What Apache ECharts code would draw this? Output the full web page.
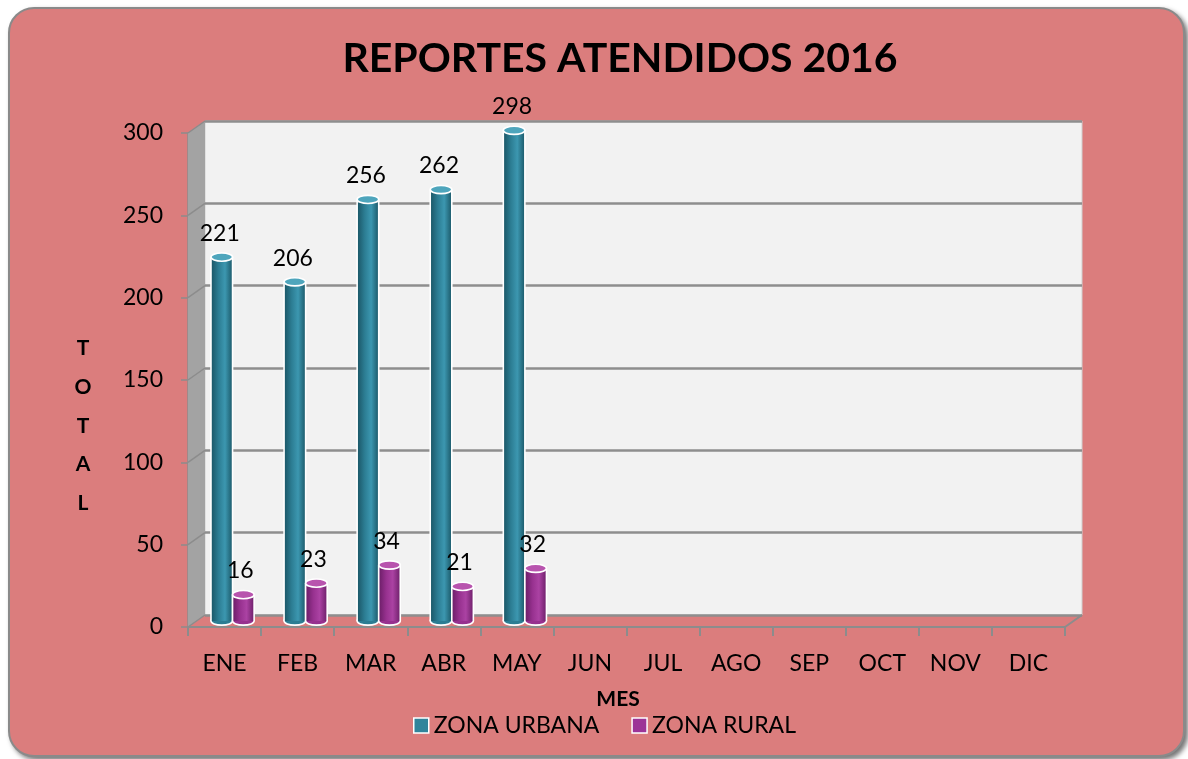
<!DOCTYPE html>
<html><head><meta charset="utf-8">
<script src="https://cdn.jsdelivr.net/npm/echarts@6/dist/echarts.min.js"></script>
<style>
html,body{margin:0;padding:0;background:#fff;width:1188px;height:759px;overflow:hidden;}
#bg{position:absolute;left:8px;top:7px;width:1173px;height:746px;background:#db7d7d;border:2px solid #8a8a8a;border-radius:26px;box-shadow:3px 3px 5px rgba(0,0,0,0.55);}
#chart{position:absolute;left:0;top:0;width:1188px;height:759px;}
</style></head><body><div id="bg"></div><div id="chart"></div>
<script>
// ---- data ----
const categories = ['ENE','FEB','MAR','ABR','MAY','JUN','JUL','AGO','SEP','OCT','NOV','DIC'];
const urbana = [221, 206, 256, 262, 298];
const rural = [16, 23, 34, 21, 32];
const seriesNames = ['ZONA URBANA', 'ZONA RURAL'];
const yMin = 0, yMax = 300, yInterval = 50;
const titleText = 'REPORTES ATENDIDOS 2016';
const yName = ['T','O','T','A','L'];
const xName = 'MES';

// ---- layout ----
const FONT = 'Lato, "Open Sans", sans-serif';
const FRONT = {l:188, r:1065, t:133, b:627};
const D = {dx:17, dy:-12};
const BACK = {l:FRONT.l+D.dx, r:FRONT.r+D.dx, t:FRONT.t+D.dy, b:FRONT.b+D.dy};
const MID = {l:FRONT.l+8, r:FRONT.r+8, t:FRONT.t-6, b:FRONT.b-6};
function gridOf(g){return {left:g.l, top:g.t, width:g.r-g.l, height:g.b-g.t, containLabel:false};}

const styles = [
  {legend:'#31849b', body:['#1a5565','#2c7d93','#3c97b0','#1b5868'], top:'#4ea5bc'},
  {legend:'#9c3497', body:['#6a1d66','#97318f','#ab42a3','#6d1f69'], top:'#b854ae'}
];

function makeRender(si){
  return function(params, api){
    const cat = api.value(0), v = api.value(1);
    const top = api.coord([cat, v]);
    const base = api.coord([cat, 0]);
    const band = api.size([1, 0])[0];
    const w = band * 0.295;
    const cx = top[0] + (si === 0 ? -w/2 : w/2);
    const ry = w * 0.19;
    const st = styles[si];
    const grad = new echarts.graphic.LinearGradient(0,0,1,0,[
      {offset:0,color:st.body[0]},{offset:0.35,color:st.body[1]},
      {offset:0.65,color:st.body[2]},{offset:1,color:st.body[3]}]);
    return {type:'group', children:[
      {type:'ellipse', shape:{cx:cx, cy:base[1], rx:w/2, ry:ry}, style:{fill:st.body[1], stroke:'#fff', lineWidth:1.6}},
      {type:'rect', shape:{x:cx-w/2, y:top[1], width:w, height:base[1]-top[1]}, style:{fill:grad}},
      {type:'line', shape:{x1:cx-w/2, y1:top[1], x2:cx-w/2, y2:base[1]}, style:{stroke:'#fff', lineWidth:1.6}},
      {type:'line', shape:{x1:cx+w/2, y1:top[1], x2:cx+w/2, y2:base[1]}, style:{stroke:'#fff', lineWidth:1.6}},
      {type:'ellipse', shape:{cx:cx, cy:top[1], rx:w/2, ry:ry}, style:{fill:st.top, stroke:'#fff', lineWidth:1.6}},
      {type:'text', style:{text:String(v), x:cx - (si===0?2:3), y:top[1]-ry-8, align:'center', verticalAlign:'bottom',
        textAlign:'center', textVerticalAlign:'bottom', fontSize:23, fontFamily:FONT, fill:'#000'}}
    ]};
  };
}

const chart = echarts.init(document.getElementById('chart'), null, {renderer:'canvas'});
const option = {
  backgroundColor:'transparent',
  animation:false,
  title:[
    {text:titleText, left:615, top:33, textAlign:'center',
     textStyle:{fontFamily:FONT, fontWeight:'bold', fontSize:41, color:'#000'}},
    {text:xName, left:613, top:684, textAlign:'center',
     textStyle:{fontFamily:FONT, fontWeight:'bold', fontSize:21, color:'#000'}},
    {text:yName.join('\n'), left:78, top:324, textAlign:'center',
     textStyle:{fontFamily:FONT, fontWeight:'bold', fontSize:21, lineHeight:38.7, color:'#000'}}
  ],
  legend:{
    data:seriesNames, left:413, top:714, padding:0, icon:'rect', itemWidth:15, itemHeight:15, itemGap:32,
    itemStyle:{borderColor:'#fff', borderWidth:1.5},
    textStyle:{fontFamily:FONT, fontSize:23, color:'#000'}
  },
  grid:[
    Object.assign(gridOf(BACK), {show:true, backgroundColor:'#f2f2f2', borderColor:'#d0d0d0', borderWidth:1}),
    gridOf(MID),
    gridOf(FRONT)
  ],
  xAxis:[
    {gridIndex:0, type:'category', data:categories, show:false},
    {gridIndex:1, type:'category', data:categories, show:false},
    {gridIndex:2, type:'category', data:categories, boundaryGap:true,
     axisLine:{lineStyle:{color:'#8c8c8c', width:2}},
     axisTick:{show:true, interval:0, length:9, lineStyle:{color:'#8c8c8c', width:2}},
     axisLabel:{interval:0, margin:25, fontFamily:FONT, fontSize:23, color:'#000'}}
  ],
  yAxis:[
    {gridIndex:0, type:'value', min:yMin, max:yMax, interval:yInterval,
     axisLine:{show:false}, axisTick:{show:false}, axisLabel:{show:false},
     splitLine:{show:true, lineStyle:{color:'#8e8e8e', width:2.5}}},
    {gridIndex:1, type:'value', min:yMin, max:yMax, interval:yInterval, show:false, splitLine:{show:false}},
    {gridIndex:2, type:'value', min:yMin, max:yMax, interval:yInterval,
     axisLine:{show:true, lineStyle:{color:'#8c8c8c', width:1.5}},
     axisTick:{show:true, length:7, lineStyle:{color:'#8c8c8c', width:1.5}},
     axisLabel:{margin:25, fontFamily:FONT, fontSize:23, color:'#000'},
     splitLine:{show:false}}
  ],
  series:[
    {name:seriesNames[0], type:'custom', xAxisIndex:1, yAxisIndex:1, z:5,
     itemStyle:{color:styles[0].legend}, renderItem:makeRender(0),
     encode:{x:0, y:1}, data:urbana.map((v,i)=>[i,v])},
    {name:seriesNames[1], type:'custom', xAxisIndex:1, yAxisIndex:1, z:5,
     itemStyle:{color:styles[1].legend}, renderItem:makeRender(1),
     encode:{x:0, y:1}, data:rural.map((v,i)=>[i,v])}
  ]
};
chart.setOption(option);

// ---- 3D decoration: side wall and floor edges ----
const deco = [];
deco.push({type:'polygon', z:1, shape:{points:[[FRONT.l,FRONT.t],[BACK.l,BACK.t],[BACK.l,BACK.b],[FRONT.l,FRONT.b]]},
  style:{fill:'#a3a3a3'}});
for (let v = yMin; v <= yMax; v += yInterval){
  const yf = chart.convertToPixel({yAxisIndex:2}, v);
  const yb = chart.convertToPixel({yAxisIndex:0}, v);
  deco.push({type:'line', z:2, shape:{x1:FRONT.l, y1:yf, x2:BACK.l, y2:yb}, style:{stroke:'#8c8c8c', lineWidth:1.5}});
}
deco.push({type:'line', z:2, shape:{x1:FRONT.r, y1:FRONT.b, x2:BACK.r, y2:BACK.b}, style:{stroke:'#8c8c8c', lineWidth:2}});
chart.setOption({graphic:deco});
</script></body></html>
